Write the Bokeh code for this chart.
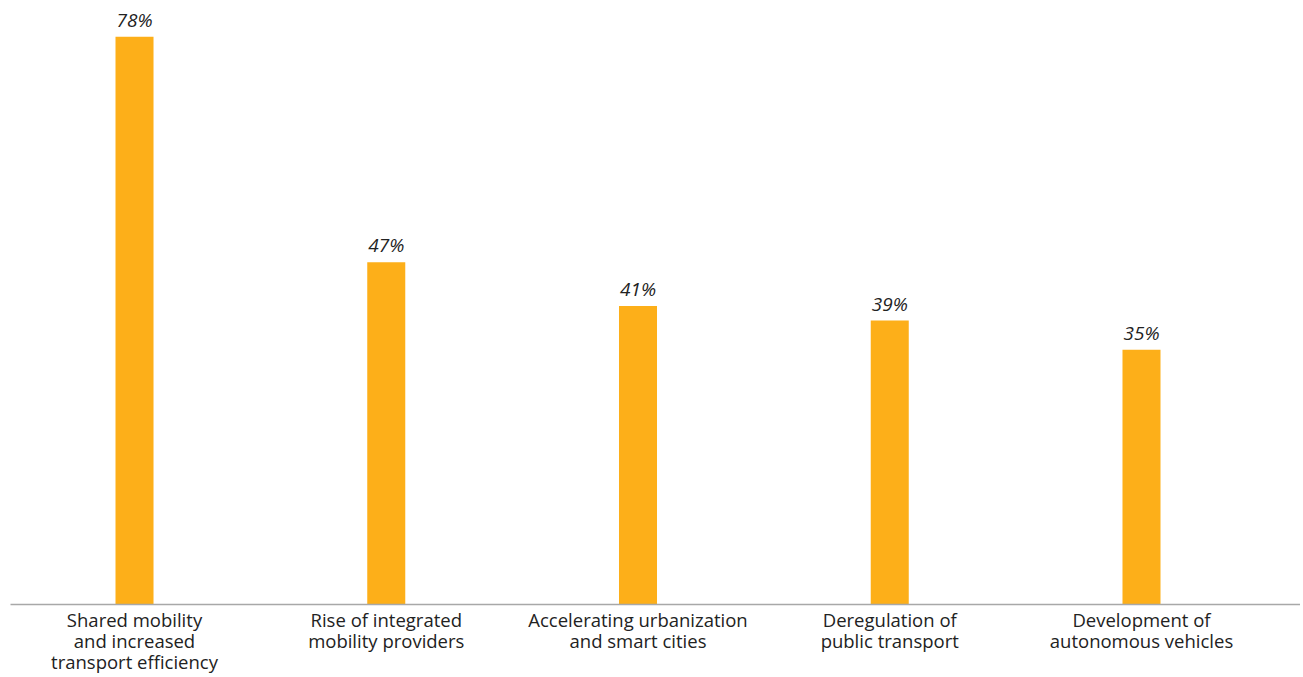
from bokeh.plotting import figure
from bokeh.models import ColumnDataSource, Range1d, FixedTicker
from bokeh.core.properties import value
from bokeh.embed import file_html
from bokeh.resources import INLINE

categories = [
    "Shared mobility\nand increased\ntransport efficiency",
    "Rise of integrated\nmobility providers",
    "Accelerating urbanization\nand smart cities",
    "Deregulation of\npublic transport",
    "Development of\nautonomous vehicles",
]
values = [78, 47, 41, 39, 35]
value_labels = [f"{v}%" for v in values]

xs = list(range(len(categories)))
src = ColumnDataSource(dict(x=xs, top=values, lab=value_labels))

FONT = "Open Sans"
p = figure(
    width=1300, height=677,
    x_range=Range1d(-0.4926, 4.6316),
    y_range=Range1d(0, 81.6),
    output_backend="svg", toolbar_location=None,
    min_border_left=10, min_border_right=0, min_border_top=10, min_border_bottom=60,
)
p.vbar(x="x", top="top", width=0.151, bottom=0, source=src,
       fill_color="#FDAF19", line_color=None)
p.text(x="x", y="top", text="lab", source=src, y_offset=-17,
       text_align="center", text_baseline="alphabetic",
       text_font=value(FONT), text_font_style="italic",
       text_font_size="19px", text_color="#222222")

p.yaxis.visible = False
p.xgrid.visible = False
p.ygrid.visible = False
p.outline_line_color = None
ax = p.xaxis[0]
ax.ticker = FixedTicker(ticks=xs)
ax.major_label_overrides = {i: c for i, c in zip(xs, categories)}
ax.major_tick_line_color = None
ax.minor_tick_line_color = None
ax.major_tick_out = 0
ax.major_tick_in = 0
ax.minor_tick_out = 0
ax.minor_tick_in = 0
ax.axis_line_color = "#A8A8A8"
ax.axis_line_width = 1.5
ax.major_label_text_font = FONT
ax.major_label_text_font_size = "18.5px"
ax.major_label_text_line_height = 0.85
ax.major_label_text_color = "#222222"
ax.major_label_standoff = 2

open("out.html", "w").write(file_html(p, INLINE))
